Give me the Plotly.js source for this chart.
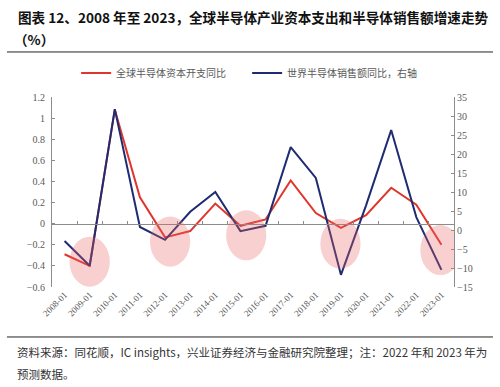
<!DOCTYPE html>
<html>
<head>
<meta charset="utf-8">
<script src="https://cdn.plot.ly/plotly-3.0.1.min.js"></script>
<style>html,body{margin:0;padding:0;background:#fff;}#chart{width:500px;height:387px;}</style>
</head>
<body>
<div id="chart"></div>
<script>
// ---- data ----
const categories = ['2008-01','2009-01','2010-01','2011-01','2012-01','2013-01','2014-01','2015-01',
                    '2016-01','2017-01','2018-01','2019-01','2020-01','2021-01','2022-01','2023-01'];
const capexYoY = [-0.29, -0.40, 1.08, 0.25, -0.13, -0.07, 0.19, -0.02, 0.04, 0.41, 0.10, -0.04, 0.08, 0.34, 0.18, -0.20];
const salesYoY = [-2.9, -9.4, 31.8, 0.8, -2.6, 4.8, 10.0, -0.3, 1.1, 21.8, 13.7, -11.8, 6.5, 26.3, 3.4, -10.5];
const seriesNames = ['全球半导体资本开支同比', '世界半导体销售额同比，右轴'];
const titleLines = ['图表 12、2008 年至 2023，全球半导体产业资本支出和半导体销售额增速走势', '（%）'];
const sourceLines = ['资料来源：同花顺，IC insights，兴业证券经济与金融研究院整理；注：2022 年和 2023 年为', '预测数据。'];
// highlighted troughs (category position, centre on left axis)
const highlightPos = [1, 4.2, 7.23, 10.98, 14.96];
const highlightY = [-0.36, -0.17, -0.11, -0.19, -0.25];

const cjk = '"Noto Sans CJK SC", "Noto Sans", sans-serif';
const serif = '"Liberation Serif", "DejaVu Serif", serif';
const tickGray = '#595959';

const traces = [
  {x: categories, y: capexYoY, name: seriesNames[0], type: 'scatter', mode: 'lines',
   line: {color: '#E0352B', width: 2}, xaxis: 'x', yaxis: 'y'},
  {x: categories, y: salesYoY, name: seriesNames[1], type: 'scatter', mode: 'lines',
   line: {color: '#1F2C72', width: 2}, xaxis: 'x', yaxis: 'y2'},
  {x: categories, y: capexYoY, type: 'scatter', mode: 'lines', showlegend: false, hoverinfo: 'skip',
   line: {color: 'rgba(0,0,0,0)', width: 0}, xaxis: 'x2', yaxis: 'y'}
];

const shapes = highlightPos.map((p, i) => ({
  type: 'circle', xref: 'x', yref: 'y', layer: 'above',
  x0: p - 0.8, x1: p + 0.8, y0: highlightY[i] - 0.237, y1: highlightY[i] + 0.237,
  fillcolor: 'rgba(235,100,100,0.3)', line: {width: 0}
}));
shapes.push({type: 'line', xref: 'paper', yref: 'paper', x0: -0.112, x1: 1.097, y0: 1.237, y1: 1.237,
             line: {color: '#222', width: 1}});
shapes.push({type: 'line', xref: 'paper', yref: 'paper', x0: -0.112, x1: 1.097, y0: -0.263, y1: -0.263,
             line: {color: '#222', width: 1}});

// paper y for a pixel row: (287 - py) / 190
const py = v => (287 - v) / 190;
const annotations = [
  {text: '<b>' + titleLines[0] + '</b>', xref: 'paper', yref: 'paper', x: -0.09, y: py(17), xanchor: 'left', yanchor: 'middle',
   showarrow: false, font: {family: cjk, size: 13.6, color: '#111'}},
  {text: '<b>' + titleLines[1] + '</b>', xref: 'paper', yref: 'paper', x: -0.1, y: py(39), xanchor: 'left', yanchor: 'middle',
   showarrow: false, font: {family: cjk, size: 13.6, color: '#111'}},
  {text: sourceLines[0], xref: 'paper', yref: 'paper', x: -0.092, y: py(352), xanchor: 'left', yanchor: 'middle',
   showarrow: false, font: {family: cjk, size: 11.5, color: '#333'}},
  {text: sourceLines[1], xref: 'paper', yref: 'paper', x: -0.092, y: py(374), xanchor: 'left', yanchor: 'middle',
   showarrow: false, font: {family: cjk, size: 11.5, color: '#333'}}
];

const layout = {
  width: 500, height: 387,
  margin: {l: 52, r: 46, t: 97, b: 100},
  paper_bgcolor: '#fff', plot_bgcolor: '#fff',
  showlegend: true,
  legend: {orientation: 'h', x: 0.06, xanchor: 'left', y: py(73), yanchor: 'middle',
           font: {family: cjk, size: 10, color: '#595959'}, entrywidth: 126, itemwidth: 30,
           bgcolor: 'rgba(0,0,0,0)'},
  xaxis: {type: 'category', categoryarray: categories, range: [-0.5, 15.5],
          showline: false, ticks: '', showgrid: false, zeroline: false,
          tickangle: -45, tickfont: {family: serif, size: 9, color: tickGray}},
  xaxis2: {type: 'category', categoryarray: categories, range: [-0.5, 15.5], overlaying: 'x',
           anchor: 'free', position: 0.3333, showline: true, linecolor: '#8c8c8c', linewidth: 1.5,
           ticks: 'inside', tickson: 'boundaries', ticklen: 3, tickcolor: '#8c8c8c',
           showticklabels: false, showgrid: false, zeroline: false},
  yaxis: {range: [-0.6, 1.2], dtick: 0.2, tick0: 0, showgrid: false, zeroline: false,
          showline: true, linecolor: '#8c8c8c', linewidth: 1, ticks: 'inside', ticklen: 3,
          tickcolor: '#8c8c8c', tickfont: {family: serif, size: 10, color: tickGray},
          ticklabelstandoff: 4},
  yaxis2: {range: [-15, 35], dtick: 5, tick0: 0, overlaying: 'y', side: 'right', showgrid: false,
           zeroline: false, showline: true, linecolor: '#8c8c8c', linewidth: 1, ticks: 'inside',
           ticklen: 3, tickcolor: '#8c8c8c', tickfont: {family: serif, size: 10, color: tickGray}},
  shapes: shapes,
  annotations: annotations
};

Plotly.newPlot('chart', traces, layout, {displayModeBar: false, staticPlot: true});
</script>
</body>
</html>
